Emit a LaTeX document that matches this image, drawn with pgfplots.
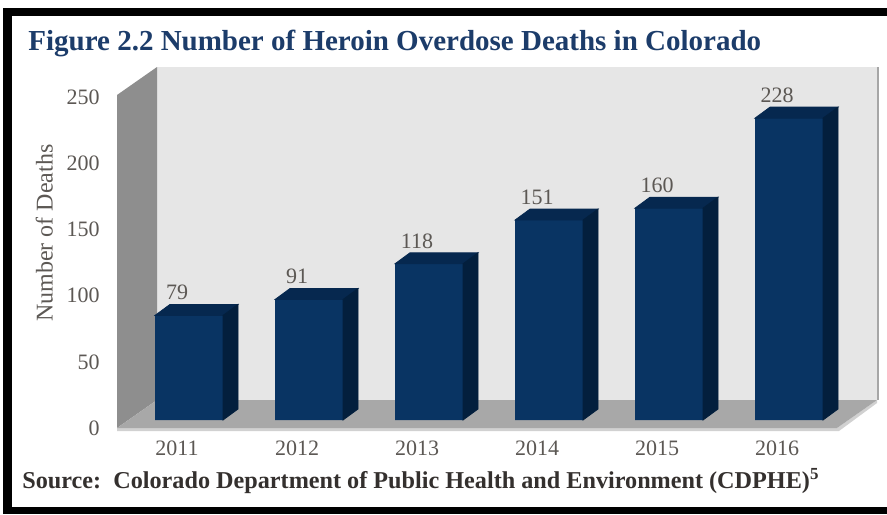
\documentclass[border=0pt]{standalone}
\usepackage{fontspec}
\setmainfont{Liberation Serif}
\usepackage{pgfplots}
\usepackage{pgfplotstable}
\pgfplotsset{compat=1.18}

\definecolor{barfront}{RGB}{9,52,99}
\definecolor{barside}{RGB}{3,31,61}
\definecolor{bartop}{RGB}{6,40,79}
\definecolor{backwall}{RGB}{230,230,230}
\definecolor{sidewall}{RGB}{142,142,142}
\definecolor{floorgray}{RGB}{168,168,168}
\definecolor{titleblue}{RGB}{28,60,106}
\definecolor{ticktext}{RGB}{92,88,84}
\definecolor{sourcetext}{RGB}{52,48,46}

% heroin overdose deaths, Colorado
\pgfplotstableread{
x deaths
0 79
1 91
2 118
3 151
4 160
5 228
}\deathtable

\begin{document}
\begin{tikzpicture}
% drawing in pixel units of the reference (1px = 0.5pt, y downwards)
\begin{scope}[x=0.5pt,y=-0.5pt]
  \useasboundingbox (0,0) rectangle (887,514);
  \fill[black] (3,8) rectangle (887,514);
  \fill[white] (12,16) rectangle (887,507);
  % walls and floor
  \fill[backwall] (157,67) rectangle (878,400);
  \draw[gray!70,line width=0.6pt] (878,67) -- (878,400);
  \fill[sidewall] (117,95) -- (157,67) -- (157,400) -- (117,428) -- cycle;
  \fill[black!18] (117,428) -- (837,428) -- (877,400) -- (877,403) -- (839,431) -- (117,431) -- cycle;
  \fill[floorgray] (117,428) -- (837,428) -- (877,400) -- (157,400) -- cycle;
  % title and source
  \node[anchor=west,inner sep=0pt,text=titleblue,font=\bfseries\fontsize{14.5}{17}\selectfont]
    at (28,43) {Figure 2.2 Number of Heroin Overdose Deaths in Colorado};
  \node[anchor=west,inner sep=0pt,text=sourcetext,font=\bfseries\fontsize{12.1}{14}\selectfont]
    at (22,481) {Source:\ \ Colorado Department of Public Health and Environment (CDPHE)\textsuperscript{5}};
\end{scope}

\begin{axis}[
    at={(58.5pt,-214pt)},
    anchor=south west,
    x=60pt, y=0.662pt,
    xmin=-0.5, xmax=5.5,
    ymin=-6.04, ymax=250,
    clip=false,
    axis line style={draw=none},
    tick style={draw=none},
    major tick length=0pt,
    xtick={0,...,5},
    xticklabels={2011,2012,2013,2014,2015,2016},
    ytick={0,50,...,250},
    /pgf/number format/assume math mode=true,
    tick label style={text=ticktext,font=\fontsize{11}{13}\selectfont},
    xticklabel style={inner sep=0pt,anchor=north,yshift=-6pt},
    yticklabel style={inner sep=0pt,anchor=east,xshift=-8.5pt,yshift=-4pt},
    ylabel={Number of Deaths},
    ylabel style={at={(axis description cs:-0.101,0.575)},anchor=center,
      text=ticktext,font=\fontsize{12}{14}\selectfont},
]
% front faces
\addplot[ybar, bar width=34pt, bar shift=6pt, fill=barfront, draw=none,
    nodes near coords,
    nodes near coords style={anchor=south,inner sep=0pt,yshift=7.5pt,
      text=ticktext,font=\fontsize{11}{13}\selectfont}]
  table[x=x,y=deaths] {\deathtable};
% top and side faces of each bar, sized from the same values
\addplot[scatter, only marks, mark=*, mark size=0pt,
    visualization depends on=rawy\as\rawy,
    scatter/@pre marker code/.code={%
      \fill[bartop] (-11pt,0pt) -- (23pt,0pt) -- (30.5pt,5.5pt) -- (-3.5pt,5.5pt) -- cycle;
      \fill[barside] (23pt,0pt) -- (30.5pt,5.5pt) -- (30.5pt,{5.5pt-0.662pt*\rawy}) -- (23pt,{-0.662pt*\rawy}) -- cycle;
      \begin{scope}[opacity=0]},
    scatter/@post marker code/.code={\end{scope}}]
  table[x=x,y=deaths] {\deathtable};
\end{axis}
\end{tikzpicture}
\end{document}
